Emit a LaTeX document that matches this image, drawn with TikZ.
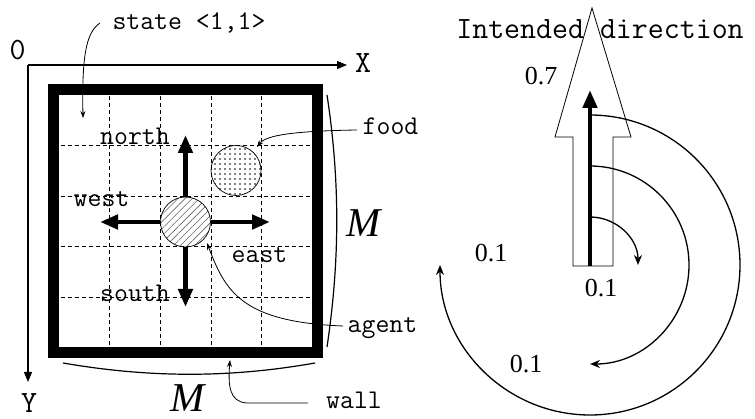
\documentclass[tikz,border=0pt]{standalone}
\usepackage{fontspec}
\setmainfont{Liberation Serif}
\usetikzlibrary{arrows.meta,patterns.meta}
\tikzset{
  lbl/.style={font=\ttfamily\fontsize{27}{27}\selectfont, inner sep=0pt, anchor=base},
  axlbl/.style={font=\ttfamily\fontsize{31}{31}\selectfont, inner sep=0pt, anchor=base},
  ttl/.style={font=\ttfamily\fontsize{31}{31}\selectfont, inner sep=0pt, anchor=base},
  num/.style={font=\fontsize{26}{26}\selectfont, inner sep=0pt, anchor=base},
  mlbl/.style={font=\itshape\fontsize{41}{41}\selectfont, inner sep=0pt, anchor=base},
  gridline/.style={dash pattern=on 4pt off 3pt, line width=0.6pt},
  wallbox/.style={draw, line width=11pt, inner sep=0pt, minimum width=263.5pt, minimum height=263pt},
  dirarrow/.style={line width=4.7pt, -{Triangle[width=14pt,length=18pt]}},
  axisline/.style={line width=1.1pt, -{Triangle[width=8pt,length=10pt]}},
  leader/.style={line width=0.8pt, -{Stealth[width=5pt,length=7pt]}},
  probarc/.style={line width=1.3pt, -{Stealth[width=8pt,length=10pt]}},
  blob/.style={circle, draw, line width=0.7pt, minimum size=50pt, inner sep=0pt},
}
\begin{document}
\begin{tikzpicture}[x=1pt,y=-1pt]
\useasboundingbox (0,0) rectangle (755,419);
% grid
\foreach \i in {1,2,3,4} {
  \draw[gridline] ({53.5+5.5+50.6*\i},89.5) -- ({53.5+5.5+50.6*\i},352.5);
  \draw[gridline] (53.5,{95+50.6*\i}) -- (317,{95+50.6*\i});
}
% wall
\node[wallbox] (wall) at (185.25,221) {};
% axes
\coordinate (O) at (28,65);
\coordinate (xend) at (347,65);
\coordinate (yend) at (28,382);
\draw[axisline] (O) -- (xend);
\draw[axisline] (O) -- (yend);
\node[axlbl] (zero) at (17.5,60) {0};
\node[axlbl] (xl) at (363,73) {X};
\node[axlbl] (yl) at (29,413) {Y};
% food and agent
\node[blob, pattern={Dots[distance=5pt,radius=0.8pt]}, pattern color=black] (food) at (236,170.5) {};
\node[blob, pattern={Lines[angle=45,distance=5pt,line width=0.6pt]}, pattern color=black!60] (agent) at (185.5,222) {};
% direction arrows
\coordinate (ntip) at (185.5,135);
\coordinate (wtip) at (100,222);
\coordinate (etip) at (270,222);
\coordinate (stip) at (185.5,307);
\draw[dirarrow] (agent.north) -- (ntip);
\draw[dirarrow] (agent.west) -- (wtip);
\draw[dirarrow] (agent.east) -- (etip);
\draw[dirarrow] (agent.south) -- (stip);
\node[lbl] (north) at (135,145) {north};
\node[lbl] (west) at (101.5,207) {west};
\node[lbl] (east) at (259.5,263) {east};
\node[lbl] (south) at (135,302) {south};
% labels with leaders
\node[lbl] (state) at (189,30) {state <1,1>};
\node[lbl] (foodl) at (390.5,135) {food};
\node[lbl] (agentl) at (382.5,333) {agent};
\node[lbl] (walll) at (354,409) {wall};
\coordinate (s0) at (100,23);
\coordinate (s1) at (83,118);
\draw[leader] (s0) .. controls (85,33) and (82,60) .. (s1);
\coordinate (f0) at (357,130);
\coordinate (f1) at (257,147);
\draw[leader] (f0) .. controls (295,131) and (266,135) .. (f1);
\coordinate (a0) at (343,326);
\coordinate (a1) at (207,243);
\draw[leader] (a0) .. controls (240,322) and (225,290) .. (a1);
\coordinate (w0) at (308,403);
\coordinate (w1) at (247,403);
\coordinate (w2) at (230,360);
\draw[leader] (w0) -- (w1) .. controls (229,402) and (228,385) .. (w2);
% M braces
\coordinate (r0) at (327,95);
\coordinate (r1) at (327,347);
\draw[line width=1.2pt] (r0) .. controls (340,180) and (340,260) .. (r1);
\coordinate (b0) at (63,363);
\coordinate (b1) at (315,363);
\draw[line width=1.2pt] (b0) .. controls (150,378) and (230,378) .. (b1);
\node[mlbl] (mr) at (364,237) {M};
\node[mlbl] (mb) at (188,412) {M};
% right part
\node[ttl] (intended) at (600,39) {Intended direction};
\draw[line width=0.8pt, line join=miter] (592,8) -- (631,137) -- (613,137) -- (613,266) -- (573,266) -- (573,137) -- (555,137) -- cycle;
\coordinate (base) at (590,266);
\coordinate (top) at (590,90);
\draw[line width=4.7pt, -{Triangle[width=14pt,length=18pt]}] (base) -- (top);
\coordinate (c1) at (590,217);
\coordinate (c2) at (590,166);
\coordinate (c3) at (590,115);
\draw[probarc] (c1) arc[start angle=90, end angle=0, radius=48pt];
\draw[probarc] (c2) arc[start angle=90, end angle=-90, radius=99pt];
\draw[probarc] (c3) arc[start angle=90, end angle=-180, radius=150pt];
\node[num] (p7) at (541,85) {0.7};
\node[num] (p1a) at (601,297) {0.1};
\node[num] (p1b) at (491,262) {0.1};
\node[num] (p1c) at (526,373) {0.1};
\end{tikzpicture}
\end{document}
